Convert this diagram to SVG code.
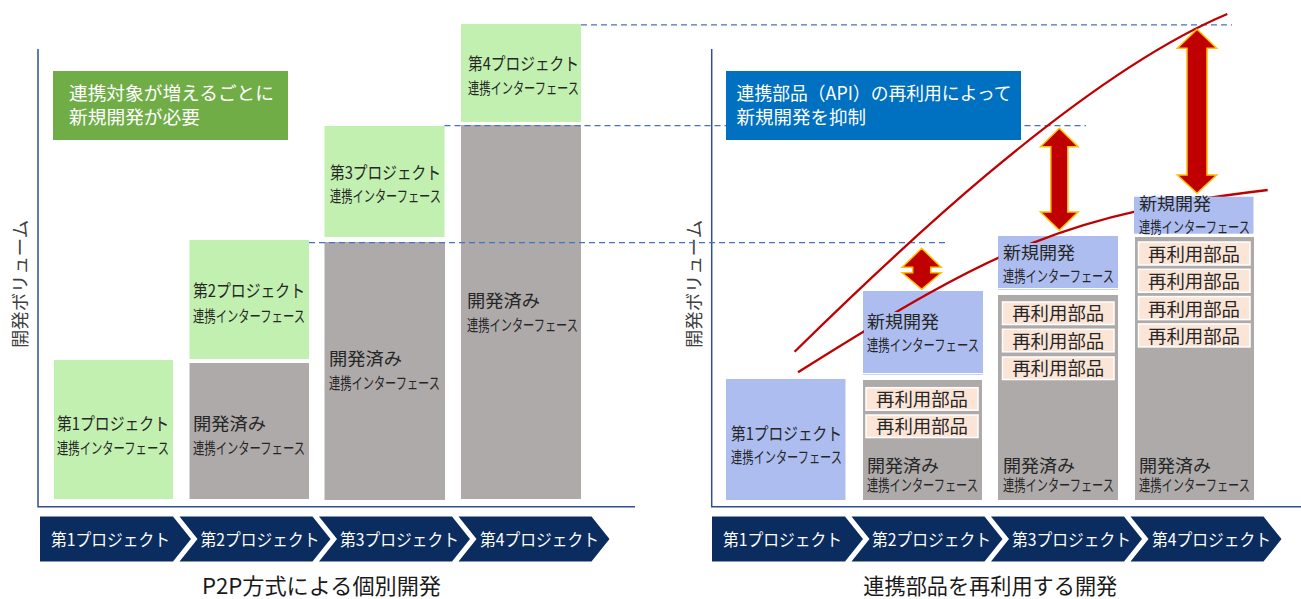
<svg xmlns="http://www.w3.org/2000/svg" width="1301" height="599" viewBox="0 0 1301 599">
<defs>
<style>
text{font-family:"Noto Sans CJK JP","Noto Sans CJK SC",sans-serif;fill:#262626}
.a{font-size:18px}
.b{font-size:16px}
.a2{font-size:17.5px}
.b2{font-size:15.5px}
.w{fill:#fff}
.cv{font-size:17px;fill:#fff}
.ttl{font-size:21.5px;fill:#1a1a1a}
.lab{font-size:18px;fill:#404040}
.gr{fill:#C2F0B0}
.gy{fill:#AEAAAA}
.bl{fill:#ADBDF0}
.rp{fill:#FBE5D6;stroke:#FFFFFF;stroke-width:1.5}
.chev{fill:#0B2C5E}
.axis{stroke:#2F4F8F;stroke-width:1.5;fill:none}
.dash{stroke:#4472C4;stroke-width:1.2;stroke-dasharray:6 4;fill:none}
.curve{stroke:#C00000;stroke-width:2.3;fill:none}
.arr{fill:#C00000;stroke:#FFC000;stroke-width:1.5;stroke-linejoin:miter}
.frm{stroke:#C8D2F4;stroke-width:1}
</style>
</defs>
<rect width="1301" height="599" fill="#fff"/>

<!-- ===== Left chart ===== -->
<g id="left-axes">
<path class="axis" d="M38,49 V506.7 H635"/>
<text class="lab" transform="translate(26.5,284) rotate(-90)" text-anchor="middle" textLength="128" lengthAdjust="spacingAndGlyphs">開発ボリューム</text>
</g>

<g id="left-note">
<rect x="53" y="71" width="235" height="69" fill="#70AD47"/>
<text class="w" x="69" y="100.4" style="font-size:18.5px" textLength="205" lengthAdjust="spacingAndGlyphs">連携対象が増えるごとに</text>
<text class="w" x="69" y="123.7" style="font-size:18.5px" textLength="131" lengthAdjust="spacingAndGlyphs">新規開発が必要</text>
</g>

<g id="left-p1">
<rect class="gr" x="54" y="360" width="119" height="139"/>
<text class="a2" x="57" y="430" textLength="112" lengthAdjust="spacingAndGlyphs">第1プロジェクト</text>
<text class="b2" x="57" y="454.3" textLength="112" lengthAdjust="spacingAndGlyphs">連携インターフェース</text>
</g>

<g id="left-p2-new">
<rect class="gr" x="189.5" y="240" width="119.5" height="119"/>
<text class="a2" x="193" y="297" textLength="112" lengthAdjust="spacingAndGlyphs">第2プロジェクト</text>
<text class="b2" x="193" y="322" textLength="112" lengthAdjust="spacingAndGlyphs">連携インターフェース</text>
</g>
<g id="left-p2-done">
<rect class="gy" x="189.5" y="363" width="119.5" height="136"/>
<text class="a2" x="193" y="430.2" textLength="73" lengthAdjust="spacingAndGlyphs">開発済み</text>
<text class="b2" x="193" y="454.3" textLength="112" lengthAdjust="spacingAndGlyphs">連携インターフェース</text>
</g>

<g id="left-p3-new">
<rect class="gr" x="324.5" y="126" width="120" height="111"/>
<text class="a2" x="330" y="178.7" textLength="111" lengthAdjust="spacingAndGlyphs">第3プロジェクト</text>
<text class="b2" x="330" y="202" textLength="111" lengthAdjust="spacingAndGlyphs">連携インターフェース</text>
</g>
<g id="left-p3-done">
<rect class="gy" x="324.5" y="242" width="120.5" height="258"/>
<text class="a2" x="329" y="364.6" textLength="73" lengthAdjust="spacingAndGlyphs">開発済み</text>
<text class="b2" x="329" y="388.6" textLength="111" lengthAdjust="spacingAndGlyphs">連携インターフェース</text>
</g>

<g id="left-p4-new">
<rect class="gr" x="461" y="24" width="120" height="98"/>
<text class="a2" x="468" y="70.4" textLength="111" lengthAdjust="spacingAndGlyphs">第4プロジェクト</text>
<text class="b2" x="468" y="93.6" textLength="111" lengthAdjust="spacingAndGlyphs">連携インターフェース</text>
</g>
<g id="left-p4-done">
<rect class="gy" x="461" y="125" width="120" height="374"/>
<text class="a2" x="467" y="307.3" textLength="73" lengthAdjust="spacingAndGlyphs">開発済み</text>
<text class="b2" x="467" y="331" textLength="111" lengthAdjust="spacingAndGlyphs">連携インターフェース</text>
</g>

<g id="left-timeline">
<polygon class="chev" points="40,516.5 173,516.5 191,539 173,561.5 40,561.5"/>
<polygon class="chev" points="179.5,516.5 312.5,516.5 330.5,539 312.5,561.5 179.5,561.5 197.5,539"/>
<polygon class="chev" points="319,516.5 452,516.5 470,539 452,561.5 319,561.5 337,539"/>
<polygon class="chev" points="458.5,516.5 591.5,516.5 609.5,539 591.5,561.5 458.5,561.5 476.5,539"/>
<text class="cv" x="51" y="546.3" textLength="119" lengthAdjust="spacingAndGlyphs">第1プロジェクト</text>
<text class="cv" x="200.5" y="546.3" textLength="119" lengthAdjust="spacingAndGlyphs">第2プロジェクト</text>
<text class="cv" x="340" y="546.3" textLength="119" lengthAdjust="spacingAndGlyphs">第3プロジェクト</text>
<text class="cv" x="480" y="546.3" textLength="119" lengthAdjust="spacingAndGlyphs">第4プロジェクト</text>
</g>
<g id="left-title">
<text class="ttl" x="321.5" y="594" text-anchor="middle" textLength="239" lengthAdjust="spacingAndGlyphs">P2P方式による個別開発</text>
</g>

<!-- ===== Right chart ===== -->
<g id="right-axes">
<path class="axis" d="M711.7,49 V506.7 H1301"/>
<text class="lab" transform="translate(700.5,284) rotate(-90)" text-anchor="middle" textLength="128" lengthAdjust="spacingAndGlyphs">開発ボリューム</text>
</g>

<g id="right-p1">
<rect class="bl" x="726" y="379" width="119.5" height="121"/>
<text class="a2" x="731" y="440" textLength="111" lengthAdjust="spacingAndGlyphs">第1プロジェクト</text>
<text class="b2" x="731" y="463.4" textLength="111" lengthAdjust="spacingAndGlyphs">連携インターフェース</text>
</g>

<g id="right-p2-box">
<rect class="bl" x="863" y="291" width="120" height="82"/>
<line class="frm" x1="863" y1="374.5" x2="983" y2="374.5"/>
</g>
<g id="right-p2-done">
<rect class="gy" x="863" y="380" width="119" height="120"/>
<rect class="rp" x="866" y="387.7" width="112" height="22.5"/>
<rect class="rp" x="866" y="415" width="112" height="22.5"/>
<text class="a" x="922" y="405.7" text-anchor="middle" textLength="92" lengthAdjust="spacingAndGlyphs">再利用部品</text>
<text class="a" x="922" y="433" text-anchor="middle" textLength="92" lengthAdjust="spacingAndGlyphs">再利用部品</text>
<text class="a2" x="867" y="471.5" textLength="72" lengthAdjust="spacingAndGlyphs">開発済み</text>
<text class="b2" x="867" y="491.3" textLength="111" lengthAdjust="spacingAndGlyphs">連携インターフェース</text>
</g>

<g id="right-p3-box">
<rect class="bl" x="998" y="236" width="120" height="52"/>
<line class="frm" x1="998" y1="289.5" x2="1118" y2="289.5"/>
</g>
<g id="right-p3-done">
<rect class="gy" x="998" y="295" width="120" height="205"/>
<rect class="rp" x="1002.5" y="302" width="111.5" height="22.5"/>
<rect class="rp" x="1002.5" y="329.3" width="111.5" height="22.5"/>
<rect class="rp" x="1002.5" y="357" width="111.5" height="22.5"/>
<text class="a" x="1058.2" y="320.2" text-anchor="middle" textLength="92" lengthAdjust="spacingAndGlyphs">再利用部品</text>
<text class="a" x="1058.2" y="347.5" text-anchor="middle" textLength="92" lengthAdjust="spacingAndGlyphs">再利用部品</text>
<text class="a" x="1058.2" y="375.2" text-anchor="middle" textLength="92" lengthAdjust="spacingAndGlyphs">再利用部品</text>
<text class="a2" x="1003" y="471.5" textLength="72" lengthAdjust="spacingAndGlyphs">開発済み</text>
<text class="b2" x="1003" y="491.3" textLength="111" lengthAdjust="spacingAndGlyphs">連携インターフェース</text>
</g>

<g id="right-p4-done">
<rect class="gy" x="1135" y="237" width="119" height="263"/>
<rect class="rp" x="1138.5" y="242" width="111.5" height="23"/>
<rect class="rp" x="1138.5" y="269.3" width="111.5" height="23"/>
<rect class="rp" x="1138.5" y="296.6" width="111.5" height="23"/>
<rect class="rp" x="1138.5" y="323.9" width="111.5" height="23"/>
<text class="a" x="1194" y="261" text-anchor="middle" textLength="92" lengthAdjust="spacingAndGlyphs">再利用部品</text>
<text class="a" x="1194" y="288.3" text-anchor="middle" textLength="92" lengthAdjust="spacingAndGlyphs">再利用部品</text>
<text class="a" x="1194" y="315.6" text-anchor="middle" textLength="92" lengthAdjust="spacingAndGlyphs">再利用部品</text>
<text class="a" x="1194" y="342.9" text-anchor="middle" textLength="92" lengthAdjust="spacingAndGlyphs">再利用部品</text>
<text class="a2" x="1139" y="471.5" textLength="72" lengthAdjust="spacingAndGlyphs">開発済み</text>
<text class="b2" x="1139" y="491.3" textLength="111" lengthAdjust="spacingAndGlyphs">連携インターフェース</text>
</g>

<g id="right-timeline">
<polygon class="chev" points="712,516.5 845,516.5 863,539 845,561.5 712,561.5"/>
<polygon class="chev" points="851.5,516.5 984.5,516.5 1002.5,539 984.5,561.5 851.5,561.5 869.5,539"/>
<polygon class="chev" points="991,516.5 1124,516.5 1142,539 1124,561.5 991,561.5 1009,539"/>
<polygon class="chev" points="1130.5,516.5 1263.5,516.5 1281.5,539 1263.5,561.5 1130.5,561.5 1148.5,539"/>
<text class="cv" x="723" y="546.3" textLength="119" lengthAdjust="spacingAndGlyphs">第1プロジェクト</text>
<text class="cv" x="872" y="546.3" textLength="119" lengthAdjust="spacingAndGlyphs">第2プロジェクト</text>
<text class="cv" x="1012" y="546.3" textLength="119" lengthAdjust="spacingAndGlyphs">第3プロジェクト</text>
<text class="cv" x="1152" y="546.3" textLength="119" lengthAdjust="spacingAndGlyphs">第4プロジェクト</text>
</g>
<g id="right-title">
<text class="ttl" x="990.3" y="594" text-anchor="middle" textLength="254" lengthAdjust="spacingAndGlyphs">連携部品を再利用する開発</text>
</g>

<!-- ===== Connectors ===== -->
<g id="connectors">
<line class="dash" x1="581" y1="24.8" x2="1232" y2="24.8"/>
<line class="dash" x1="444.5" y1="125.7" x2="1086" y2="125.7"/>
<line class="dash" x1="309" y1="242.7" x2="947" y2="242.7"/>
<path class="curve" d="M794.6,351.7 C880,268 1075,78 1227.3,14"/>
<path class="curve" d="M798,372.3 C998,246.3 1067.7,214 1267.7,190"/>
<polygon class="arr" points="921.7,248.3 941.2,267.3 930.7,267.3 930.7,272.7 941.2,272.7 921.7,289.3 902.2,272.7 912.7,272.7 912.7,267.3 902.2,267.3"/>
<polygon class="arr" points="1059.3,128.3 1078.1,146.7 1067.8,146.7 1067.8,212 1078.1,212 1059.3,230.3 1040.5,212 1050.8,212 1050.8,146.7 1040.5,146.7"/>
<polygon class="arr" points="1197,29.3 1216.7,48.3 1207,48.3 1207,175 1216.7,175 1197,193.3 1177.3,175 1187,175 1187,48.3 1177.3,48.3"/>
</g>

<!-- ===== Labels over connectors ===== -->
<g id="right-p2-new">
<rect class="bl" x="864" y="312" width="118" height="60.5"/>
<text class="a2" x="867" y="328.3" textLength="72" lengthAdjust="spacingAndGlyphs">新規開発</text>
<text class="b2" x="867" y="351" textLength="112" lengthAdjust="spacingAndGlyphs">連携インターフェース</text>
</g>
<g id="right-p3-new">
<rect class="bl" x="998.5" y="243" width="119" height="44.5"/>
<text class="a2" x="1003" y="258.6" textLength="72" lengthAdjust="spacingAndGlyphs">新規開発</text>
<text class="b2" x="1003" y="282" textLength="111" lengthAdjust="spacingAndGlyphs">連携インターフェース</text>
</g>
<g id="right-p4-new">
<rect class="bl" x="1134" y="196.7" width="119.5" height="37"/>
<text class="a2" x="1139" y="210.4" textLength="72" lengthAdjust="spacingAndGlyphs">新規開発</text>
<text class="b2" x="1139" y="232.6" textLength="111" lengthAdjust="spacingAndGlyphs">連携インターフェース</text>
</g>

<g id="right-note">
<rect x="726" y="71" width="295" height="69" fill="#0070C0"/>
<text class="w" x="736.6" y="100.4" style="font-size:18.5px" textLength="275" lengthAdjust="spacingAndGlyphs">連携部品（API）の再利用によって</text>
<text class="w" x="736.6" y="123.7" style="font-size:18.5px" textLength="129.5" lengthAdjust="spacingAndGlyphs">新規開発を抑制</text>
</g>
</svg>
